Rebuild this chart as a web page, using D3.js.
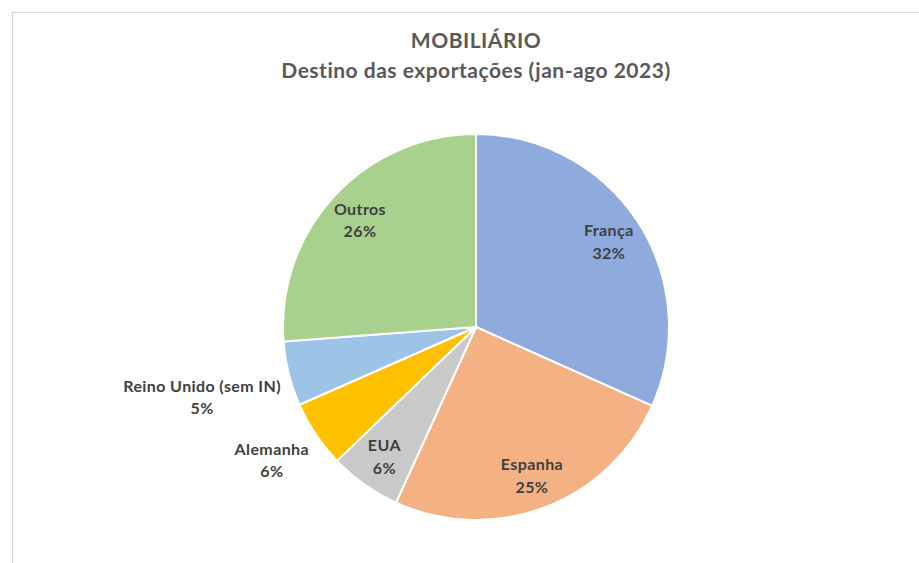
<!DOCTYPE html>
<meta charset="utf-8">
<title>Mobiliário</title>
<style>
body {
  margin: 0;
  background: #fff;
}
svg {
  display: block;
  font-family: Lato, "Open Sans", sans-serif;
}
.title {
  fill: #595959;
  font-size: 21px;
  font-weight: bold;
  letter-spacing: 0.5px;
  text-anchor: middle;
}
.label {
  fill: #404040;
  font-size: 16px;
  font-weight: bold;
  letter-spacing: 0.4px;
}
</style>
<svg></svg>
<script src="https://d3js.org/d3.v7.min.js"></script>
<script>
// slices, clockwise from 12 o'clock
var countries = ["França", "Espanha", "EUA", "Alemanha", "Reino Unido (sem IN)", "Outros"];
var shares = [31.7, 25.1, 6.0, 5.6, 5.4, 26.2];
var shareLabels = ["32%", "25%", "6%", "6%", "5%", "26%"];
var colors = ["#8faadc", "#f4b183", "#c9c9c9", "#ffc000", "#9dc3e6", "#a9d18e"];
var outside = ["Alemanha", "Reino Unido (sem IN)"];
var titleLines = ["MOBILIÁRIO", "Destino das exportações (jan-ago 2023)"];

var width = 919,
    height = 563;
var cx = 476, cy = 327, r = 193;

var data = countries.map(function(c, i) {
  return {name: c, value: shares[i], label: shareLabels[i], color: colors[i]};
});

var svg = d3.select("svg")
    .attr("width", width)
    .attr("height", height);

// chart area border (runs off the right and bottom of the picture)
svg.append("rect")
    .attr("x", 12.5)
    .attr("y", 12.5)
    .attr("width", width + 20)
    .attr("height", height + 20)
    .attr("fill", "#fff")
    .attr("stroke", "#d9d9d9")
    .attr("stroke-width", 1.2);

svg.selectAll(".title")
    .data(titleLines)
  .enter().append("text")
    .attr("class", "title")
    .attr("x", cx)
    .attr("y", function(d, i) { return 48 + i * 30; })
    .text(function(d) { return d; });

var pie = d3.pie()
    .sort(null)
    .value(function(d) { return d.value; });
var arc = d3.arc()
    .innerRadius(0)
    .outerRadius(r);
var arcs = pie(data);

var g = svg.append("g")
    .attr("transform", "translate(" + cx + "," + cy + ")");

g.selectAll("path")
    .data(arcs)
  .enter().append("path")
    .attr("d", arc)
    .attr("fill", function(d) { return d.data.color; })
    .attr("stroke", "#fff")
    .attr("stroke-width", 2)
    .attr("stroke-linejoin", "round");

var inner = d3.arc().innerRadius(r * 0.82).outerRadius(r * 0.82);
var outer = d3.arc().innerRadius(r + 8).outerRadius(r + 8);

var labels = g.selectAll(".label")
    .data(arcs)
  .enter().append("text")
    .attr("class", "label")
    .attr("text-anchor", "middle");

labels.append("tspan")
    .attr("x", 0)
    .attr("dy", 0)
    .text(function(d) { return d.data.name; });
labels.append("tspan")
    .attr("x", 0)
    .attr("dy", 22.5)
    .text(function(d) { return d.data.label; });

labels.each(function(d) {
  var t = d3.select(this);
  var b = this.getBBox();
  var x, y;
  if (outside.indexOf(d.data.name) >= 0) {
    // top-right corner of the block sits just outside the rim
    var p = outer.centroid(d);
    x = p[0] - (b.x + b.width);
    y = p[1] - b.y;
  } else {
    var q = inner.centroid(d);
    x = q[0] - (b.x + b.width / 2);
    y = q[1] - (b.y + b.height / 2);
  }
  t.attr("transform", "translate(" + x + "," + y + ")");
});
</script>
